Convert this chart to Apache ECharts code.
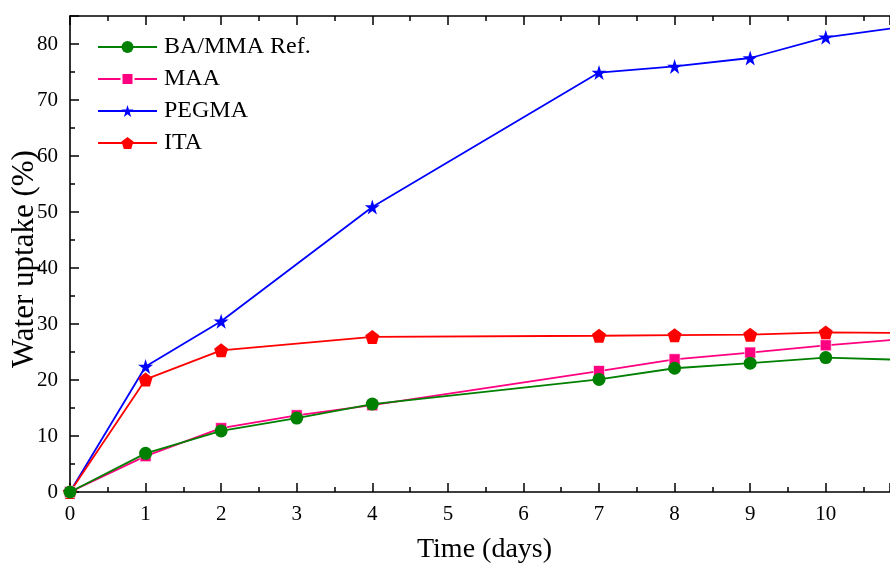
<!DOCTYPE html>
<html>
<head>
<meta charset="utf-8">
<script src="https://cdn.jsdelivr.net/npm/echarts@6/dist/echarts.min.js"></script>
<style>
  html, body { margin: 0; padding: 0; background: #fff; }
  #chart { width: 890px; height: 569px; }
</style>
</head>
<body>
<div id="chart"></div>
<script>
const days = [0, 1, 2, 3, 4, 7, 8, 9, 10, 11]
const baMma = [0, 6.9, 10.9, 13.2, 15.7, 20.1, 22.1, 23.0, 24.0, 23.6]
const maa = [0, 6.4, 11.4, 13.7, 15.5, 21.6, 23.7, 24.9, 26.2, 27.3]
const pegma = [0, 22.4, 30.5, null, 50.9, 74.9, 76.0, 77.5, 81.2, 83.0]
const ita = [0, 20.1, 25.3, null, 27.7, 27.9, 28.0, 28.1, 28.5, 28.4]

const xMax = 10.85
const yMax = 85
const font = '"Liberation Serif", "Times New Roman", serif'

const starPath = 'path://M0,-1L0.2245,-0.309L0.951,-0.309L0.363,0.118L0.588,0.809L0,0.382L-0.588,0.809L-0.363,0.118L-0.951,-0.309L-0.2245,-0.309Z'
const pentagonPath = 'path://M0,-1L0.951,-0.309L0.588,0.809L-0.588,0.809L-0.951,-0.309Z'

const pairs = (ys) => days.map((d, i) => [d, ys[i]])

const axisLine = { show: true, onZero: false, lineStyle: { color: '#000', width: 1.6 } }

const xAxisBase = (pos, step, len, showLine) => ({
  type: 'value',
  position: pos,
  min: 0,
  max: xMax,
  interval: step,
  axisLine: showLine ? axisLine : { show: false, onZero: false },
  axisTick: { show: true, inside: true, length: len, lineStyle: { color: '#000', width: 1.5 } },
  axisLabel: { show: false },
  splitLine: { show: false }
})

const yAxisBase = (step, len, showLine) => ({
  type: 'value',
  position: 'left',
  min: 0,
  max: yMax,
  interval: step,
  axisLine: showLine ? axisLine : { show: false, onZero: false },
  axisTick: { show: true, inside: true, length: len, lineStyle: { color: '#000', width: 1.5 } },
  axisLabel: { show: false },
  splitLine: { show: false }
})

const mkSeries = (name, ys, color, symbol, size, z, edge) => ({
  name,
  type: 'line',
  data: pairs(ys),
  xAxisIndex: 0,
  yAxisIndex: 0,
  connectNulls: true,
  symbol,
  symbolSize: size,
  z,
  lineStyle: { color, width: 1.8 },
  itemStyle: { color, borderColor: '#fff', borderWidth: edge },
  emphasis: { disabled: true }
})

const chart = echarts.init(document.getElementById('chart'))
chart.setOption({
  animation: false,
  backgroundColor: '#fff',
  grid: { left: 70, right: 0, top: 16, bottom: 77, outerBoundsMode: 'none', containLabel: false },
  legend: {
    orient: 'vertical',
    left: 92,
    top: 30,
    itemWidth: 59,
    itemHeight: 15,
    itemGap: 8,
    textStyle: { fontFamily: font, fontSize: 24, color: '#000', padding: [0, 0, 0, 2] },
    data: ['BA/MMA Ref.', 'MAA', 'PEGMA', 'ITA']
  },
  xAxis: [
    Object.assign(xAxisBase('bottom', 1, 9, true), {
      axisLabel: {
        show: true,
        margin: 12,
        fontFamily: font,
        fontSize: 21,
        color: '#000',
        formatter: (v) => (Number.isInteger(v) ? String(v) : '')
      },
      name: 'Time (days)',
      nameLocation: 'middle',
      nameMoveOverlap: false,
      nameGap: 44,
      nameTextStyle: { fontFamily: font, fontSize: 28, color: '#000', padding: [0, 0, 0, 9] }
    }),
    xAxisBase('bottom', 0.5, 5, false),
    xAxisBase('top', 1, 9, true),
    xAxisBase('top', 0.5, 5, false)
  ],
  yAxis: [
    Object.assign(yAxisBase(10, 9, true), {
      axisLabel: {
        show: true,
        margin: 12,
        fontFamily: font,
        fontSize: 21,
        color: '#000',
        formatter: (v) => (v % 10 === 0 ? String(v) : '')
      },
      name: 'Water uptake (%)',
      nameLocation: 'middle',
      nameMoveOverlap: false,
      nameRotate: 90,
      nameGap: 30,
      nameTextStyle: { fontFamily: font, fontSize: 31, color: '#000', padding: [0, 10, 0, 0] }
    }),
    yAxisBase(5, 5, false)
  ],
  series: [
    mkSeries('BA/MMA Ref.', baMma, '#008000', 'circle', 13, 4, 0),
    mkSeries('MAA', maa, '#ff0080', 'rect', 11, 3, 0.6),
    mkSeries('PEGMA', pegma, '#0000ff', starPath, 15, 2, 0),
    mkSeries('ITA', ita, '#ff0000', pentagonPath, 14, 2, 0)
  ]
})
</script>
</body>
</html>
